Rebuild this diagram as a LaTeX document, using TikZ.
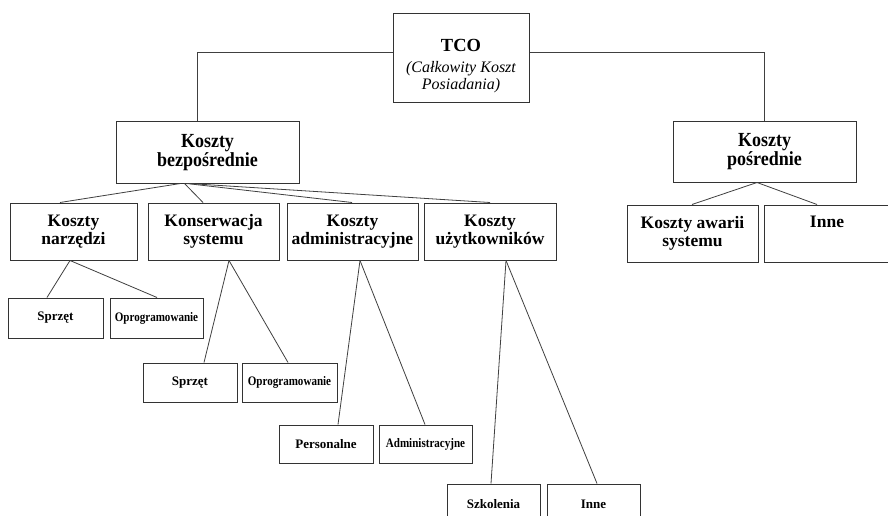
\documentclass[tikz,border=0pt]{standalone}
\usepackage{fontspec}
\setmainfont{Liberation Serif}
\newfontfamily\lvlafont[FakeStretch=0.9]{Liberation Serif}
\newfontfamily\condfont[FakeStretch=0.85]{Liberation Serif}
\begin{document}
\begin{tikzpicture}[x=1pt,y=-1pt,
  box/.style={draw=black!80, line width=1pt, rectangle, inner sep=0pt, align=center},
  conn/.style={draw=black!75, line width=0.8pt},
  lvla/.style={box, minimum width=183pt, minimum height=60pt, font=\lvlafont\bfseries\fontsize{20}{19}\selectfont},
  lvlb/.style={box, minimum width=131pt, minimum height=57pt, font=\bfseries\fontsize{17.5}{18}\selectfont},
  lvlc/.style={box, minimum width=94pt, minimum height=40pt, font=\bfseries\fontsize{13}{15}\selectfont},
  small/.style={font=\condfont\bfseries\fontsize{13}{15}\selectfont}
]
\clip (0,0) rectangle (888,516);
\fill[white] (0,0) rectangle (888,516);

% root
\node[box, minimum width=136pt, minimum height=89pt] (tco) at (461,58.5) {};
\node[align=center, inner sep=0pt, font=\itshape\fontsize{16}{17}\selectfont] (tcot) at (461,66)
  {{\upshape\bfseries\fontsize{18.5}{18}\selectfont TCO}\\[4pt](Całkowity Koszt\\Posiadania)};

% level 1
\node[lvla, minimum height=61pt] (bezp) at (207.5,152.5) {Koszty\\bezpośrednie};
\node[lvla] (posr) at (764.5,152) {Koszty\\pośrednie};

% level 2
\node[lvlb, minimum width=127pt] (narz) at (73.5,231.5) {Koszty\\narzędzi};
\node[lvlb] (kons) at (213.5,231.5) {Konserwacja\\systemu};
\node[lvlb] (adm) at (352.5,231.5) {Koszty\\administracyjne};
\node[lvlb, minimum width=132pt] (uzyt) at (490,231.5) {Koszty\\użytkowników};
\node[lvlb] (awar) at (692.5,233.5) {Koszty awarii\\systemu};
\node[lvlb, minimum width=126pt] (inne) at (827,233.5) {Inne\\\strut};

% level 3
\node[lvlc, minimum width=95pt] (s1) at (55.5,318) {Sprzęt};
\node[lvlc, minimum width=93pt, small] (o1) at (156.5,318) {Oprogramowanie};
\node[lvlc, minimum height=39pt] (s2) at (190,382.5) {Sprzęt};
\node[lvlc, minimum width=95pt, minimum height=39pt, small] (o2) at (289.5,382.5) {Oprogramowanie};
\node[lvlc, minimum height=38pt] (p3) at (326,444) {Personalne};
\node[lvlc, minimum width=93pt, minimum height=38pt, small] (a3) at (425.5,444) {Administracyjne};
\node[lvlc, minimum width=93pt] (sz) at (493.5,504) {Szkolenia};
\node[lvlc, minimum width=93pt] (in4) at (593.5,504) {Inne};

% connectors from root
\draw[conn] ([yshift=6.5pt]tco.west) -| ([xshift=-10.5pt]bezp.north);
\draw[conn] ([yshift=6.5pt]tco.east) -| ([xshift=-0.5pt]posr.north);

% from bezposrednie
\draw[conn] ([xshift=-27pt]bezp.south) -- ([xshift=-13.5pt]narz.north);
\draw[conn] ([xshift=-23pt]bezp.south) -- ([xshift=-10.5pt]kons.north);
\draw[conn] ([xshift=-21pt]bezp.south) -- ([xshift=-0.5pt]adm.north);
\draw[conn] ([xshift=-19pt]bezp.south) -- (uzyt.north);

% from posrednie
\draw[conn] ([xshift=-7.5pt]posr.south) -- ([xshift=-0.5pt]awar.north);
\draw[conn] ([xshift=-7.5pt]posr.south) -- ([xshift=-10pt]inne.north);

% level 2 to level 3
\draw[conn] ([xshift=-3.5pt]narz.south) -- ([xshift=-8.5pt]s1.north);
\draw[conn] ([xshift=-3.5pt]narz.south) -- ([xshift=0.5pt]o1.north);
\draw[conn] ([xshift=15.5pt]kons.south) -- ([xshift=14pt]s2.north);
\draw[conn] ([xshift=15.5pt]kons.south) -- ([xshift=-1.5pt]o2.north);
\draw[conn] ([xshift=7.5pt]adm.south) -- ([xshift=12pt]p3.north);
\draw[conn] ([xshift=7.5pt]adm.south) -- ([xshift=-0.5pt]a3.north);
\draw[conn] ([xshift=16pt]uzyt.south) -- ([xshift=-2.5pt]sz.north);
\draw[conn] ([xshift=16pt]uzyt.south) -- ([xshift=3.5pt]in4.north);
\end{tikzpicture}
\end{document}
